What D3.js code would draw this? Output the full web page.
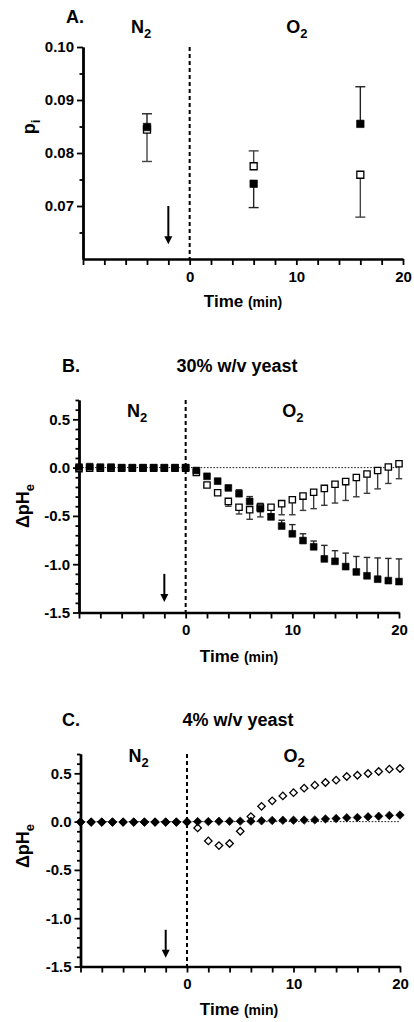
<!DOCTYPE html>
<html>
<head>
<meta charset="utf-8">
<script src="https://cdn.jsdelivr.net/npm/d3@7"></script>
<style>
body { margin: 0; background: #fff; }
svg { display: block; font-family: "Liberation Sans", Arial, sans-serif; font-weight: bold; }
</style>
</head>
<body>
<svg id="fig" width="414" height="1022"></svg>
<script>
// ---- panel A : p_i
var timeA = [-4, 6, 16];
var piFilled = [0.0849, 0.0742, 0.0855];
var piFilledErr = [0.0025, -0.0045, 0.0070];
var piOpen = [0.0844, 0.0775, 0.0759];
var piOpenErr = [-0.0060, 0.0029, -0.0080];

// ---- panel B : 30% w/v yeast, one point per minute from -10 to 20
var timeB = d3.range(-10, 21);
var phB_filled = [0.005, 0.01, 0.005, 0.005, 0, 0, 0, 0, 0, 0, 0,
  -0.03, -0.09, -0.14, -0.21, -0.27, -0.35, -0.425, -0.51, -0.605, -0.685,
  -0.755, -0.82, -0.945, -0.97, -1.025, -1.08, -1.12, -1.155, -1.17, -1.18];
var phB_filledErr = [0, 0, 0, 0, 0, 0, 0, 0, 0, 0, 0,
  0.01, 0.01, 0.015, 0.02, 0.04, 0.05, 0.055, 0.03, 0.06, 0.095,
  0.07, 0.06, 0.14, 0.11, 0.14, 0.16, 0.19, 0.22, 0.23, 0.235];
var phB_open = [-0.01, -0.005, -0.005, -0.005, -0.005, -0.005, -0.005, -0.005, -0.005, -0.005, -0.005,
  -0.05, -0.18, -0.26, -0.35, -0.41, -0.435, -0.41, -0.41, -0.373, -0.333,
  -0.295, -0.255, -0.215, -0.172, -0.145, -0.102, -0.066, -0.03, 0.006, 0.04];
var phB_openErr = [0, 0, 0, 0, 0, 0, 0, 0, 0, 0, 0,
  -0.01, -0.01, -0.015, -0.05, -0.07, -0.1, -0.1, -0.07, -0.115, -0.155,
  -0.148, -0.17, -0.175, -0.195, -0.195, -0.2, -0.2, -0.19, -0.17, -0.155];

// ---- panel C : 4% w/v yeast
var timeC = d3.range(-10, 21);
var phC_filled = [-0.005, -0.005, -0.005, -0.005, -0.005, -0.005, -0.005, -0.005, -0.005, -0.005, -0.003,
  0, 0, 0.003, 0.003, 0.005, 0.005, 0.008, 0.012, 0.014, 0.015,
  0.016, 0.018, 0.028, 0.032, 0.04, 0.043, 0.05, 0.055, 0.064, 0.068];
var phC_open = [-0.005, -0.005, -0.005, -0.005, -0.005, -0.005, -0.005, -0.005, -0.005, -0.005, -0.003,
  -0.065, -0.2, -0.248, -0.227, -0.1, 0.052, 0.158, 0.215, 0.266, 0.30,
  0.346, 0.377, 0.405, 0.429, 0.467, 0.48, 0.498, 0.519, 0.543, 0.55];

// axis ticks
var timeTicks = d3.range(-10, 21, 2);
var timeLabels = [0, 10, 20];
var piMajor = [0.07, 0.08, 0.09, 0.10];
var piMinor = [0.065, 0.075, 0.085, 0.095];
var phMajor = [-1.5, -1.0, -0.5, 0.0, 0.5];
var phMinor = d3.range(-15, 8).map(function(d){ return d / 10; }).filter(function(d){ return phMajor.indexOf(d) < 0; });

var svg = d3.select('#fig');

// plain hyphen for negatives, as in the original
function fmt(spec) {
	var f = d3.format(spec);
	return function(d){ return f(d).replace('\u2212', '-'); };
}

function subText(sel, main, sub, size, subSize) {
	sel.append('tspan').attr('font-size', size).text(main);
	sel.append('tspan').attr('font-size', subSize).attr('dy', size * 0.3).text(sub);
}

function drawPanel(cfg) {
	var x = d3.scaleLinear().domain([-10, 20]).range([cfg.left, cfg.right]);
	var y = d3.scaleLinear().domain(cfg.yDomain).range([cfg.bottom, cfg.top]);
	var g = svg.append('g');

	if (cfg.zeroLine) {
		g.append('line')
			.attr('x1', x(-10)).attr('x2', x(20))
			.attr('y1', y(0)).attr('y2', y(0))
			.attr('stroke', '#000').attr('stroke-width', 0.9)
			.attr('stroke-dasharray', '1.6,1.6');
	}
	// gas switch at t = 0
	g.append('line')
		.attr('x1', x(0)).attr('x2', x(0))
		.attr('y1', cfg.top).attr('y2', cfg.bottom)
		.attr('stroke', '#000').attr('stroke-width', 2)
		.attr('stroke-dasharray', '4,3');

	// arrow
	var ay0 = y(cfg.arrow[0]), ay1 = y(cfg.arrow[1]), ax = x(-2);
	g.append('line').attr('x1', ax).attr('x2', ax).attr('y1', ay0).attr('y2', ay1 - 6)
		.attr('stroke', '#000').attr('stroke-width', 2);
	g.append('path')
		.attr('d', 'M' + (ax - 4) + ',' + (ay1 - 8) + 'L' + (ax + 4) + ',' + (ay1 - 8) + 'L' + ax + ',' + ay1 + 'Z')
		.attr('fill', '#000');

	// axes
	var yMinorAxis = d3.axisLeft(y).tickValues(cfg.yMinor).tickFormat('').tickSize(3.5).tickSizeOuter(0);
	var yAxis = d3.axisLeft(y).tickValues(cfg.yMajor).tickFormat(cfg.yFormat).tickSize(6).tickSizeOuter(0).tickPadding(3);
	var xAxis = d3.axisBottom(x).tickValues(timeTicks)
		.tickFormat(function(d){ return timeLabels.indexOf(d) >= 0 ? d : ''; })
		.tickSize(6).tickSizeOuter(0).tickPadding(6);

	var gym = g.append('g').attr('transform', 'translate(' + cfg.left + ',0)').call(yMinorAxis);
	var gy = g.append('g').attr('transform', 'translate(' + cfg.left + ',0)').call(yAxis);
	var gx = g.append('g').attr('transform', 'translate(0,' + cfg.bottom + ')').call(xAxis);
	[gym, gy, gx].forEach(function(a){
		a.attr('font-family', null).attr('font-size', 15);
		a.select('.domain').attr('stroke-width', 2.4).attr('stroke', '#000');
		a.selectAll('.tick line').attr('stroke-width', 1.8).attr('stroke', '#000');
		a.selectAll('.tick text').attr('fill', '#000');
	});

	// error bars
	cfg.series.forEach(function(s){
		if (!s.err) return;
		var eg = g.append('g').attr('stroke', s.errColor).attr('stroke-width', 1.4);
		s.t.forEach(function(t, i){
			var e = s.err[i];
			if (!e) return;
			var cx = x(t), y0 = y(s.v[i]), y1 = y(s.v[i] + e);
			eg.append('line').attr('x1', cx).attr('x2', cx).attr('y1', y0).attr('y2', y1);
			eg.append('line').attr('x1', cx - cfg.cap / 2).attr('x2', cx + cfg.cap / 2).attr('y1', y1).attr('y2', y1);
		});
	});

	// markers
	cfg.series.forEach(function(s){
		var sym = d3.symbol().type(d3.symbolSquare).size(s.size * s.size);
		g.append('g').selectAll('path').data(s.t).join('path')
			.attr('d', sym)
			.attr('transform', function(t, i){
				return 'translate(' + x(t) + ',' + y(s.v[i]) + ')' + (s.diamond ? ' rotate(45)' : '');
			})
			.attr('fill', s.filled ? '#000' : '#fff')
			.attr('stroke', '#000')
			.attr('stroke-width', s.filled ? 0.6 : 1.3);
	});

	// texts
	svg.append('text').attr('x', cfg.letter[0]).attr('y', cfg.letter[1]).attr('font-size', 18).text(cfg.letter[2]);
	if (cfg.title) {
		svg.append('text').attr('x', cfg.title[0]).attr('y', cfg.title[1]).attr('font-size', 18)
			.attr('text-anchor', 'middle').text(cfg.title[2]);
	}
	subText(svg.append('text').attr('x', x(-10) + 48).attr('y', cfg.gasY), 'N', '2', 18, 13);
	subText(svg.append('text').attr('x', x(10) - 10).attr('y', cfg.gasY), 'O', '2', 18, 13);

	var xl = svg.append('text').attr('x', cfg.xLabel[0]).attr('y', cfg.xLabel[1]).attr('text-anchor', 'middle');
	xl.append('tspan').attr('font-size', 17).text('Time ');
	xl.append('tspan').attr('font-size', 14).text('(min)');

	var yl = svg.append('text').attr('text-anchor', 'middle')
		.attr('transform', 'translate(' + cfg.yLabel[0] + ',' + cfg.yLabel[1] + ') rotate(-90)');
	subText(yl, cfg.yLabel[2], cfg.yLabel[3], 18, 13);
}

drawPanel({
	left: 83, right: 403, top: 47, bottom: 259,
	yDomain: [0.06, 0.10], yMajor: piMajor, yMinor: piMinor, yFormat: fmt('.2f'),
	arrow: [0.07, 0.0628], cap: 10,
	letter: [66, 23, 'A.'], gasY: 33,
	xLabel: [243, 307], yLabel: [35, 127, 'p', 'i'],
	series: [
		{t: timeA, v: piOpen, err: piOpenErr, errColor: '#444', filled: false, size: 7},
		{t: timeA, v: piFilled, err: piFilledErr, errColor: '#222', filled: true, size: 7.5}
	]
});

drawPanel({
	left: 79, right: 399, top: 400, bottom: 612.5,
	yDomain: [-1.5, 0.7], yMajor: phMajor, yMinor: phMinor, yFormat: fmt('.1f'),
	arrow: [-1.1, -1.39], cap: 6.5, zeroLine: true,
	letter: [62, 372, 'B.'], title: [237, 372, '30% w/v yeast'], gasY: 417,
	xLabel: [239, 662], yLabel: [29, 506, '\u0394pH', 'e'],
	series: [
		{t: timeB, v: phB_open, err: phB_openErr, errColor: '#3c3c3c', filled: false, size: 6.3},
		{t: timeB, v: phB_filled, err: phB_filledErr, errColor: '#2a2a2a', filled: true, size: 6.8}
	]
});

drawPanel({
	left: 80.5, right: 400, top: 754, bottom: 966.5,
	yDomain: [-1.5, 0.7], yMajor: phMajor, yMinor: phMinor, yFormat: fmt('.1f'),
	arrow: [-1.12, -1.41], cap: 6, zeroLine: true,
	letter: [62, 726, 'C.'], title: [238, 726, '4% w/v yeast'], gasY: 762,
	xLabel: [239, 1015], yLabel: [29, 846, '\u0394pH', 'e'],
	series: [
		{t: timeC, v: phC_open, filled: false, diamond: true, size: 5.3},
		{t: timeC, v: phC_filled, filled: true, diamond: true, size: 6}
	]
});
</script>
</body>
</html>
